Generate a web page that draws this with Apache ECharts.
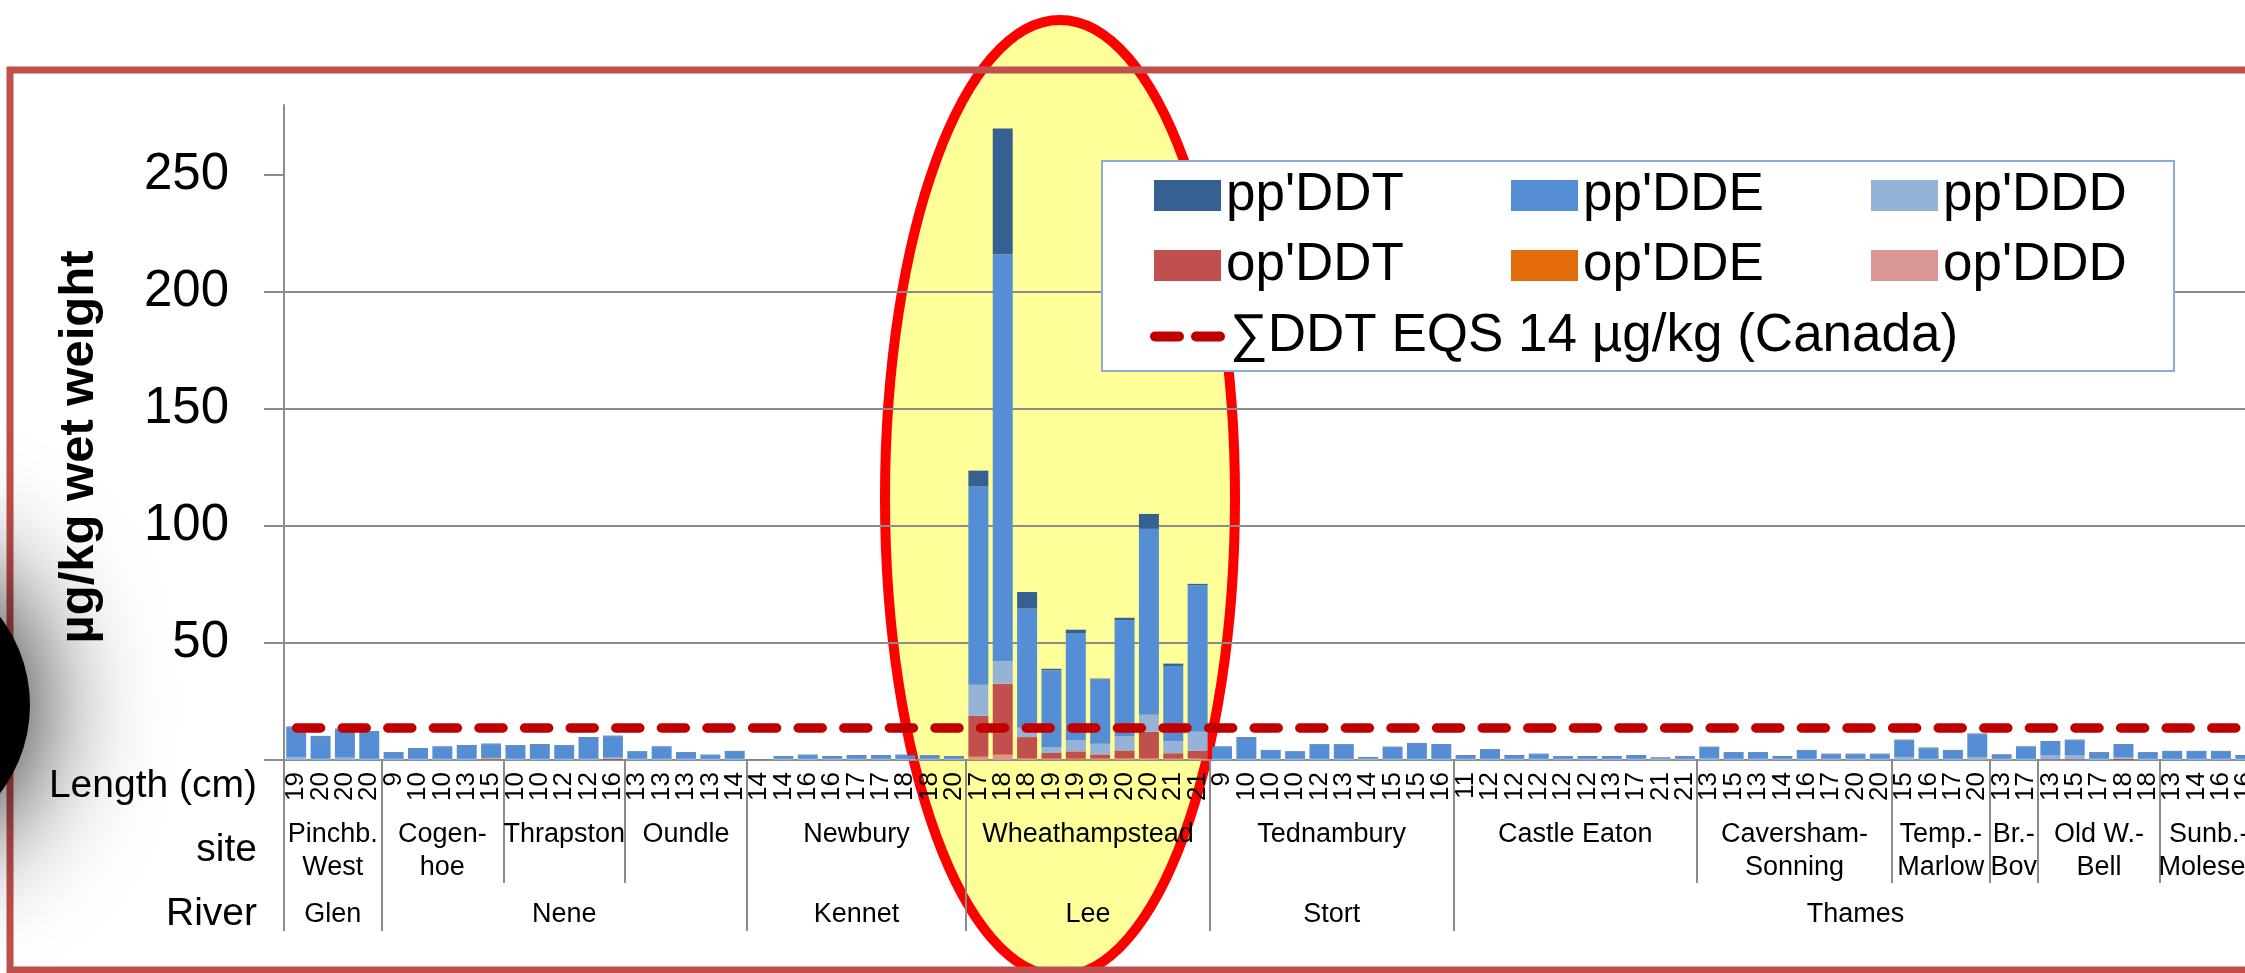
<!DOCTYPE html>
<html lang="en">
<head>
    <meta charset="UTF-8">
    <title>DDT in eels</title>
    <style>
        html, body { margin: 0; padding: 0; background: #fff; overflow: hidden; }
        #main { width: 2262px; height: 973px; }
    </style>
</head>
<body>
<div id="main"></div>
<script src="https://cdn.jsdelivr.net/npm/echarts@6/dist/echarts.min.js"></script>
<script>
    // fish length (cm), one label per bar
    var lengths = [
        '19', '20', '20', '20',
        '9', '10', '10', '13', '15',
        '10', '10', '12', '12', '16',
        '13', '13', '13', '13', '14',
        '14', '14', '16', '16', '17', '17', '18', '18', '20',
        '17', '18', '18', '19', '19', '19', '20', '20', '21', '21',
        '9', '10', '10', '10', '12', '13', '14', '15', '15', '16',
        '11', '12', '12', '12', '12', '12', '13', '17', '21', '21',
        '13', '15', '13', '14', '16', '17', '20', '20',
        '15', '16', '17', '20',
        '13', '17',
        '13', '15', '17', '18', '18',
        '13', '14', '16', '16'
    ];
    var sites = ['Pinchb.\nWest', 'Cogen-\nhoe', 'Thrapston', 'Oundle', 'Newbury', 'Wheathampstead',
        'Tednambury', 'Castle Eaton', 'Caversham-\nSonning', 'Temp.-\nMarlow', 'Br.-\nBov',
        'Old W.-\nBell', 'Sunb.-\nMolesey'];
    var siteCounts = [4, 5, 5, 5, 9, 10, 10, 10, 8, 4, 2, 5, 4];
    var rivers = ['Glen', 'Nene', 'Kennet', 'Lee', 'Stort', 'Thames'];
    var riverCounts = [4, 15, 9, 10, 10, 33];

    // µg/kg wet weight
    var ppDDT = [
        0.3, 0.3, 0.3, 0.3,
        0.3, 0.3, 0.3, 0.3, 0.3,
        0.3, 0.3, 0.3, 0.3, 0.3,
        0.3, 0.3, 0.3, 0.3, 0.3,
        0.1, 0.3, 0.3, 0.3, 0.3, 0.3, 0.3, 0.3, 0.3,
        6.8, 53.8, 7.1, 0.7, 1.4, 0.3, 1.1, 6.4, 1.0, 0.7,
        0.3, 0.3, 0.3, 0.3, 0.3, 0.3, 0.3, 0.3, 0.3, 0.3,
        0.3, 0.3, 0.3, 0.3, 0.3, 0.3, 0.3, 0.3, 0.3, 0.3,
        0.3, 0.3, 0.3, 0.3, 0.3, 0.3, 0.3, 0.3,
        0.3, 0.3, 0.3, 0.3,
        0.3, 0.3,
        0.3, 0.3, 0.3, 0.3, 0.3,
        0.3, 0.3, 0.3, 0.3
    ];
    var ppDDE = [
        12.8, 9.5, 12.1, 11.6,
        2.5, 4.3, 5.0, 5.6, 5.8,
        5.5, 6.0, 5.5, 9.0, 9.1,
        2.9, 5.0, 2.5, 1.5, 3.1,
        0.1, 0.8, 1.5, 0.9, 1.3, 1.3, 1.5, 1.2, 0.9,
        84.7, 174.0, 50.9, 33.0, 45.7, 27.5, 49.4, 79.5, 32.1, 62.5,
        5.0, 9.0, 3.5, 2.9, 5.9, 5.9, 0.5, 4.9, 6.5, 6.0,
        1.3, 3.8, 1.3, 1.9, 0.8, 0.9, 0.9, 1.3, 0.3, 0.8,
        4.8, 2.5, 2.5, 0.9, 3.5, 1.9, 1.9, 1.9,
        7.2, 4.5, 3.5, 9.7,
        1.6, 5.0,
        5.9, 6.5, 2.5, 5.5, 2.5,
        3.1, 3.1, 3.1, 1.3
    ];
    var ppDDD = [
        1.2, 0.5, 1.0, 0.5,
        0.5, 0.5, 0.5, 0.5, 0.5,
        0.5, 0.5, 0.5, 0.5, 0.5,
        0.5, 0.5, 0.5, 0.5, 0.5,
        0.1, 0.5, 0.5, 0.5, 0.5, 0.5, 0.5, 0.5, 0.5,
        13.3, 9.6, 4.0, 2.3, 4.9, 4.6, 6.2, 7.2, 5.2, 8.2,
        0.5, 0.5, 0.5, 0.5, 0.5, 0.5, 0.5, 0.5, 0.5, 0.5,
        0.5, 0.5, 0.5, 0.5, 0.5, 0.5, 0.5, 0.5, 0.5, 0.5,
        0.6, 0.5, 0.5, 0.5, 0.5, 0.5, 0.5, 0.5,
        1.2, 0.5, 0.5, 1.3,
        0.5, 0.5,
        1.6, 1.6, 0.5, 0.5, 0.5,
        0.5, 0.5, 0.5, 0.5
    ];
    var opDDT = [
        0, 0, 0, 0,
        0, 0, 0, 0, 0,
        0, 0, 0, 0, 0.5,
        0, 0, 0, 0, 0,
        0, 0, 0, 0, 0, 0, 0, 0, 0,
        17.2, 30.2, 9.0, 2.4, 2.9, 1.8, 3.3, 11.3, 2.3, 3.1,
        0, 0, 0, 0, 0, 0, 0, 0, 0, 0,
        0, 0, 0, 0, 0, 0, 0, 0, 0, 0,
        0, 0, 0, 0, 0, 0, 0, 0,
        0, 0, 0, 0,
        0, 0,
        0.3, 0.3, 0, 0.5, 0,
        0, 0, 0, 0
    ];
    var opDDE = [
        0, 0, 0, 0,
        0, 0, 0, 0, 0.4,
        0, 0, 0, 0, 0,
        0, 0, 0, 0, 0,
        0, 0, 0, 0, 0, 0, 0, 0, 0,
        0.4, 0.4, 0.3, 0.2, 0.5, 0.2, 0.3, 0.3, 0.2, 0.3,
        0, 0, 0, 0, 0, 0, 0, 0, 0, 0,
        0, 0, 0, 0, 0, 0, 0, 0, 0, 0,
        0, 0, 0, 0, 0, 0, 0, 0,
        0, 0, 0, 0,
        0, 0,
        0, 0, 0, 0, 0,
        0, 0, 0, 0
    ];
    var opDDD = [
        0, 0, 0, 0,
        0, 0, 0, 0, 0,
        0, 0, 0, 0, 0,
        0, 0, 0, 0, 0,
        0, 0, 0, 0, 0, 0, 0, 0, 0,
        1.3, 2.0, 0.5, 0.4, 0.3, 0.4, 0.5, 0.5, 0.4, 0.5,
        0, 0, 0, 0, 0, 0, 0, 0, 0, 0,
        0, 0, 0, 0, 0, 0, 0, 0, 0, 0,
        0, 0, 0, 0, 0, 0, 0, 0,
        0, 0, 0, 0,
        0, 0,
        0, 0, 0, 0, 0,
        0, 0, 0, 0
    ];
    var eqs = 14;
    var eqsName = '\u2211DDT EQS 14 \u00b5g/kg (Canada)';
    var yTicks = [0, 50, 100, 150, 200, 250];
    var yLabels = [50, 100, 150, 200, 250];

    var font = 'Liberation Sans, Arial, sans-serif';
    var grey = '#8c8c8c';
    var n = lengths.length;

    // edges and label centres of each group, in bar units
    function groups(names, counts) {
        var edges = [0], centers = {}, start = 0;
        for (var i = 0; i < counts.length; i++) {
            centers[start + counts[i] / 2] = names[i];
            start += counts[i];
            edges.push(start);
        }
        return {edges: edges, centers: centers};
    }
    var siteGroups = groups(sites, siteCounts);
    var riverGroups = groups(rivers, riverCounts);

    function groupAxis(g, tickLen, margin) {
        return {
            type: 'value', position: 'bottom', offset: 0, min: 0, max: n,
            axisLine: {show: false},
            splitLine: {show: false},
            axisTick: {show: true, customValues: g.edges, length: tickLen, lineStyle: {color: grey, width: 2}},
            axisLabel: {
                customValues: Object.keys(g.centers).map(Number),
                formatter: function (v) { return g.centers[v] || ''; },
                margin: margin, fontSize: 27, lineHeight: 33, color: '#000', fontFamily: font,
                verticalAlign: 'top'
            }
        };
    }

    var stackOrder = [
        ["op'DDD", opDDD, '#d99694'],
        ["op'DDE", opDDE, '#e46c0a'],
        ["op'DDT", opDDT, '#c0504d'],
        ["pp'DDD", ppDDD, '#95b3d7'],
        ["pp'DDE", ppDDE, '#558ed5'],
        ["pp'DDT", ppDDT, '#376092']
    ];
    var series = stackOrder.map(function (s) {
        return {
            name: s[0], type: 'bar', stack: 'ddt', data: s[1],
            barCategoryGap: '18%', itemStyle: {color: s[2]}
        };
    });
    series.push({
        name: eqsName, type: 'line', data: [], symbol: 'none',
        itemStyle: {color: '#c00000'}, lineStyle: {color: '#c00000'},
        markLine: {
            silent: true, symbol: ['none', 'none'], label: {show: false},
            lineStyle: {color: '#c00000', width: 9.5, type: [24, 21.6], dashOffset: 33, cap: 'round'},
            data: [{yAxis: eqs}]
        }
    });

    function legendRow(names, top, left, w, h) {
        return {
            data: names, left: left, top: top, orient: 'horizontal', padding: 0,
            itemWidth: w, itemHeight: h, itemGap: 107, icon: 'rect', selectedMode: false,
            textStyle: {fontSize: 53, color: '#000', fontFamily: font}
        };
    }

    var myChart = echarts.init(document.getElementById('main'));
    var option = {
        animation: false,
        grid: {left: 284, right: 4, top: 105, bottom: 213},
        xAxis: [
            {
                type: 'category', position: 'bottom', data: lengths,
                axisLine: {lineStyle: {color: grey, width: 2}},
                axisTick: {interval: 0, length: 43, lineStyle: {color: grey, width: 2}},
                axisLabel: {interval: 0, rotate: 90, margin: 12, fontSize: 26, color: '#000', fontFamily: font}
            },
            groupAxis(siteGroups, 123, 58),
            groupAxis(riverGroups, 171, 138)
        ],
        yAxis: {
            type: 'value', min: 0, max: 280, interval: 50,
            axisLine: {show: true, lineStyle: {color: grey, width: 2}},
            axisTick: {show: true, customValues: yTicks, length: 20, lineStyle: {color: grey, width: 2}},
            axisLabel: {customValues: yLabels, margin: 55, fontSize: 51, color: '#000', fontFamily: font},
            splitLine: {lineStyle: {color: grey, width: 2}, showMaxLine: false}
        },
        legend: [
            legendRow(["pp'DDT", "pp'DDE", "pp'DDD"], 169, 1154, 67, 31),
            legendRow(["op'DDT", "op'DDE", "op'DDD"], 239, 1154, 67, 31),
            legendRow([{
                name: eqsName, itemStyle: {borderWidth: 0},
                icon: 'path://M5,0H29A5,5 0 0 1 29,10H5A5,5 0 0 1 5,0Z M46,0H70A5,5 0 0 1 70,10H46A5,5 0 0 1 46,0Z'
            }], 310, 1150, 75, 10)
        ],
        graphic: [
            {
                type: 'ellipse', z: -2, shape: {cx: 1060, cy: 498, rx: 175, ry: 478},
                style: {fill: '#ffff99', stroke: '#ff0000', lineWidth: 10}
            },
            {
                type: 'rect', z: -1, shape: {x: 10, y: 70, width: 2400, height: 900},
                style: {fill: 'none', stroke: '#c0504d', lineWidth: 7}
            },
            {
                type: 'rect', z: 3, shape: {x: 1102, y: 161, width: 1072, height: 210},
                style: {fill: '#fff', stroke: '#8eaadb', lineWidth: 2}
            },
            {
                type: 'circle', z: 15, shape: {cx: -115, cy: 705, r: 145},
                style: {fill: '#000', shadowBlur: 130, shadowColor: '#000'}
            },
            {
                type: 'text', z: 20, x: 79, y: 447, rotation: Math.PI / 2,
                style: {
                    text: '\u00b5g/kg wet weight', fontSize: 49, fontWeight: 'bold', fontFamily: font, fill: '#000',
                    align: 'center', verticalAlign: 'middle', textAlign: 'center', textVerticalAlign: 'middle'
                }
            },
            {
                type: 'text', z: 20, x: 257, y: 786,
                style: {
                    text: 'Length (cm)', fontSize: 39, fontFamily: font, fill: '#000',
                    align: 'right', verticalAlign: 'middle', textAlign: 'right', textVerticalAlign: 'middle'
                }
            },
            {
                type: 'text', z: 20, x: 257, y: 850,
                style: {
                    text: 'site', fontSize: 39, fontFamily: font, fill: '#000',
                    align: 'right', verticalAlign: 'middle', textAlign: 'right', textVerticalAlign: 'middle'
                }
            },
            {
                type: 'text', z: 20, x: 257, y: 914,
                style: {
                    text: 'River', fontSize: 39, fontFamily: font, fill: '#000',
                    align: 'right', verticalAlign: 'middle', textAlign: 'right', textVerticalAlign: 'middle'
                }
            }
        ],
        series: series
    };

    myChart.setOption(option);
</script>
</body>
</html>
